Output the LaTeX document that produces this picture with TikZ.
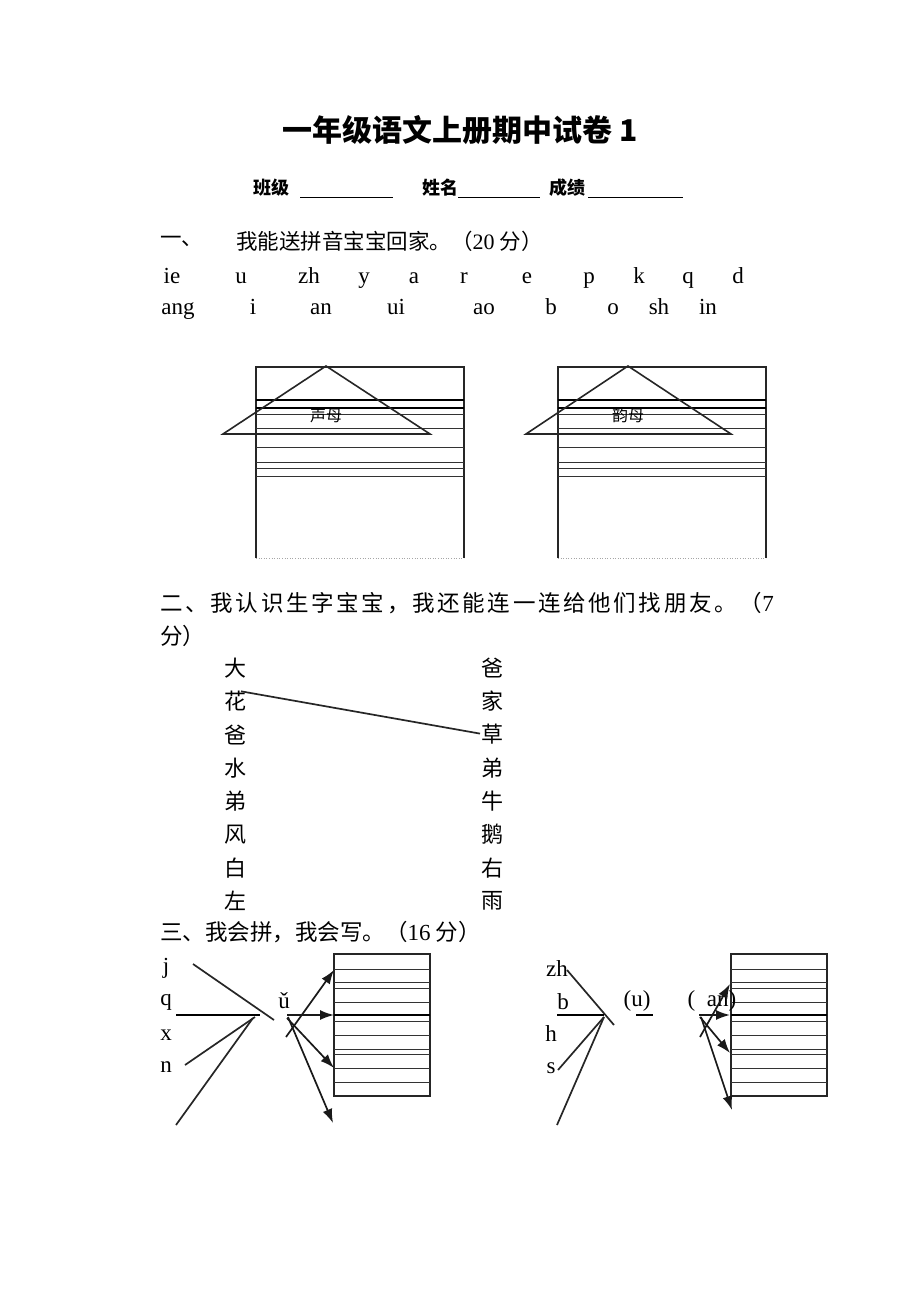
\documentclass[tikz,border=0pt]{standalone}
\usepackage{fontspec}
\setmainfont{Liberation Serif}
\newfontfamily\cjk{Noto Sans CJK SC}
\usetikzlibrary{arrows.meta,calc}
\tikzset{
  txt/.style={inner sep=0pt, anchor=center},
  wtxt/.style={inner sep=0pt, anchor=west},
  rule/.style={line width=0.9pt, black!80},
  boldrule/.style={line width=2pt, black},
  frame/.style={line width=1.4pt, black!85},
  conn/.style={line width=1.7pt, black!85},
  arr/.style={line width=1.7pt, black!90, -{Latex[length=14pt,width=10pt]}},
  dotrule/.style={line width=0.6pt, black!35, dotted}
}
\newcommand{\cjkf}[1]{\cjk\fontsize{#1}{#1}\selectfont}
\newcommand{\rmf}[1]{\rmfamily\fontsize{#1}{#1}\selectfont}
\begin{document}
\begin{tikzpicture}[x=1pt,y=-1pt]
\useasboundingbox (0,0) rectangle (920,1302);
\fill[white] (0,0) rectangle (920,1302);

% title and header
\node[txt] (title) at (460,130) {\cjkf{30}\bfseries 一年级语文上册期中试卷 1};
\node[txt] (cls) at (271,188) {\cjkf{18}\bfseries 班级};
\node[txt] (nm) at (440,188) {\cjkf{18}\bfseries 姓名};
\node[txt] (sc) at (567,188) {\cjkf{18}\bfseries 成绩};
\draw[line width=0.8pt] (300,197) -- (393,197);
\draw[line width=0.8pt] (458,197) -- (540,197);
\draw[line width=0.8pt] (588,197) -- (683,197);

% section one
\node[wtxt] (s1n) at (160,241) {\cjkf{21.5}一、};
\node[wtxt] (s1t) at (236,241) {\cjkf{21.5}我能送拼音宝宝回家。（{\rmf{22}20} 分）};
\foreach \t/\x [count=\i] in {ie/172,u/241,zh/309,y/364,a/414,r/464,e/527,p/589,k/639,q/688,d/738}
  \node[inner sep=0pt, anchor=base] (pa\i) at (\x,283) {\rmf{23}\t};
\foreach \t/\x [count=\i] in {ang/178,i/253,an/321,ui/396,ao/484,b/551,o/613,sh/659,in/708}
  \node[inner sep=0pt, anchor=base] (pb\i) at (\x,314) {\rmf{23}\t};

% houses
\foreach \L/\R/\A/\B/\C/\lab/\nn in {256/464/326/223/430/声母/h1, 558/766/628/526/731/韵母/h2}{
  \draw[frame] (\L,558) -- (\L,367) -- (\R,367) -- (\R,558);
  \draw[dotrule] (\L,558) -- (\R,558);
  \draw[boldrule] (\L,400) -- (\R,400);
  \draw[boldrule] (\L,408) -- (\R,408);
  \foreach \yy in {414,428,447,462,468,476}
    \draw[rule] (\L,\yy) -- (\R,\yy);
  \draw[line width=1.6pt, black!85] (\B,434) -- (\A,366) -- (\C,434) -- cycle;
  \node[txt] (\nn) at (\A,415) {\cjkf{16}\lab};
}

% section two
\node[wtxt] (s2t) at (160,603) {\cjkf{22.5}\addfontfeature{LetterSpace=12}二、我认识生字宝宝，我还能连一连给他们找朋友。（{\rmf{23}7}};
\node[wtxt] (s2u) at (160,636) {\cjkf{22.5}分）};
\foreach \c [count=\i] in {大,花,爸,水,弟,风,白,左}
  \node[txt] (L\i) at (235,{668+33.3*(\i-1)}) {\cjkf{22}\c};
\foreach \c [count=\i] in {爸,家,草,弟,牛,鹅,右,雨}
  \node[txt] (R\i) at (492,{668+33.3*(\i-1)}) {\cjkf{22}\c};
\draw[line width=1.7pt, black!85] ($(L2.center)+(6,-10)$) -- ($(R3.center)+(-12,-1)$);

% section three
\node[wtxt] (s3t) at (160,932) {\cjkf{22.5}三、我会拼，我会写。（{\rmf{23}16} 分）};

% left group
\node[txt] (lj) at (166,968) {\rmf{23}j};
\node[txt] (lq) at (166,1002) {\rmf{23}q};
\node[txt] (lx) at (166,1035) {\rmf{23}x};
\node[txt] (ln) at (166,1067) {\rmf{23}n};
\node[txt] (lu) at (284,1001) {\rmf{23}ǔ};
\coordinate (la1) at (193,964); \coordinate (la2) at (274,1020);
\coordinate (lb1) at (176,1015); \coordinate (lb2) at (260,1015);
\coordinate (lc1) at (185,1065); \coordinate (lc2) at (255,1017);
\coordinate (ld1) at (176,1125); \coordinate (ld2) at (253,1018);
\draw[conn] (la1) -- (la2);
\draw[line width=2.4pt] (lb1) -- (lb2);
\draw[conn] (lc1) -- (lc2);
\draw[conn] (ld1) -- (ld2);

\foreach \L/\R/\nn in {334/430/bl, 731/827/br}{
  \draw[frame] (\L,954) rectangle (\R,1096);
  \foreach \yy in {969,982,988,1002,1021,1035,1049,1054,1068,1082}
    \draw[rule] (\L,\yy) -- (\R,\yy);
  \draw[boldrule] (\L,1015) -- (\R,1015);
}
\coordinate (lo1) at (286,1037); \coordinate (lt1) at (334,970);
\coordinate (lo2) at (287,1015); \coordinate (lt2) at (334,1015);
\coordinate (lo3) at (287,1018); \coordinate (lt3) at (334,1068);
\coordinate (lo4) at (288,1017); \coordinate (lt4) at (333,1123);
\draw[arr] (lo1) -- (lt1);
\draw[arr] (lo2) -- (lt2);
\draw[arr] (lo3) -- (lt3);
\draw[arr] (lo4) -- (lt4);

% right group
\node[txt] (rzh) at (557,969) {\rmf{23}zh};
\node[txt] (rb) at (563,1002) {\rmf{23}b};
\node[txt] (rh) at (551,1034) {\rmf{23}h};
\node[txt] (rs) at (551,1068) {\rmf{23}s};
\node[txt] (ru) at (637,1001) {\rmf{23}(u)};
\node[txt] (ran) at (712,1001) {\rmf{23}(\ \ an)};
\draw[line width=2.4pt] (636,1015) -- (653,1015);
\coordinate (ra1) at (567,970); \coordinate (ra2) at (614,1025);
\coordinate (rb1) at (557,1015); \coordinate (rb2) at (604,1015);
\coordinate (rc1) at (558,1070); \coordinate (rc2) at (604,1017);
\coordinate (rd1) at (557,1125); \coordinate (rd2) at (604,1017);
\draw[conn] (ra1) -- (ra2);
\draw[line width=2.4pt] (rb1) -- (rb2);
\draw[conn] (rc1) -- (rc2);
\draw[conn] (rd1) -- (rd2);
\coordinate (ro1) at (700,1037); \coordinate (rt1) at (730,984);
\coordinate (ro2) at (699,1015); \coordinate (rt2) at (730,1015);
\coordinate (ro3) at (700,1017); \coordinate (rt3) at (730,1053);
\coordinate (ro4) at (701,1017); \coordinate (rt4) at (732,1110);
\draw[arr] (ro1) -- (rt1);
\draw[arr] (ro2) -- (rt2);
\draw[arr] (ro3) -- (rt3);
\draw[arr] (ro4) -- (rt4);
\end{tikzpicture}
\end{document}
